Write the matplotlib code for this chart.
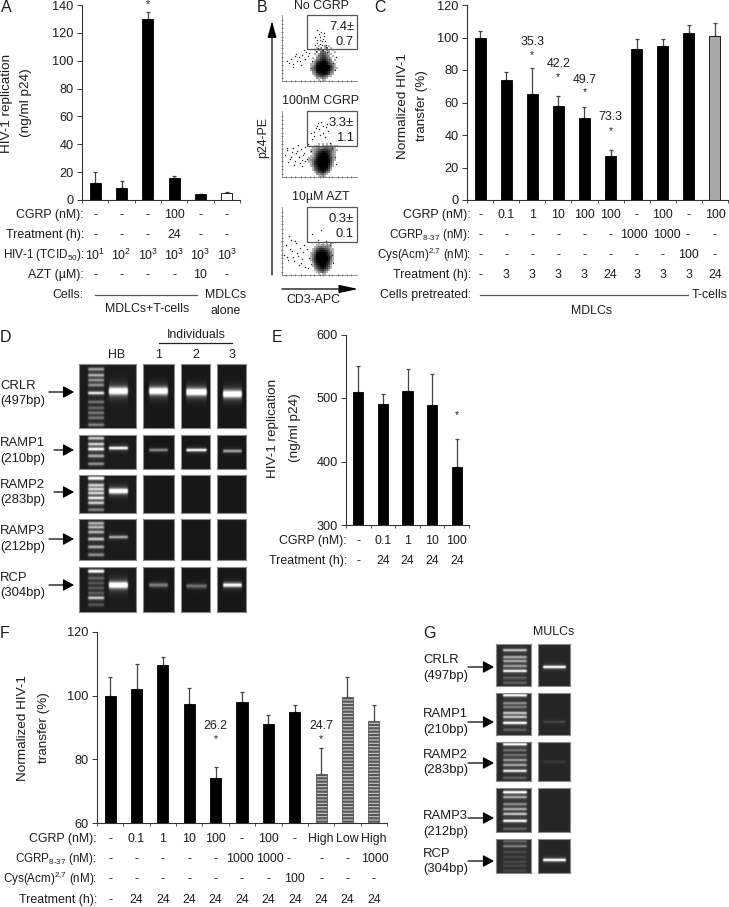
import numpy as np
import matplotlib
matplotlib.use('Agg')
import matplotlib.pyplot as plt
from matplotlib.patches import Rectangle
from matplotlib.transforms import blended_transform_factory, Affine2D

plt.rcParams['font.family'] = ['Liberation Sans', 'DejaVu Sans']
plt.rcParams['mathtext.fontset'] = 'custom'
plt.rcParams['mathtext.rm'] = 'Liberation Sans'
plt.rcParams['mathtext.default'] = 'regular'
plt.rcParams['hatch.linewidth'] = 1.6

W, H = 729, 907
TXT = '#1c1c1c'
FS = 8.9       # table rows and notes
FS_Y = 9.7     # rotated axis titles
FS_GEL = 9.4   # gel labels

# panel A
a_vals = [12, 8.5, 130, 16, 4, 5]
a_tops = [20, 13.5, 135, 17, 4.4, 6]
a_colors = ['black'] * 5 + ['white']
a_rows = ['CGRP (nM):', 'Treatment (h):', 'HIV-1 (TCID$_{50}$):', 'AZT (\u00b5M):']
a_cgrp = ['-', '-', '-', '100', '-', '-']
a_treat = ['-', '-', '-', '24', '-', '-']
a_hiv = ['10$^{1}$', '10$^{2}$', '10$^{3}$', '10$^{3}$', '10$^{3}$', '10$^{3}$']
a_azt = ['-', '-', '-', '-', '10', '-']

# panel C
c_vals = [100, 74, 65, 58, 50.5, 27, 93, 95, 103, 101]
c_tops = [104, 79, 81, 64, 57.5, 31, 99, 99, 108, 109]
c_colors = ['black'] * 9 + ['#a9a9a9']
c_rows = ['CGRP (nM):', 'CGRP$_{8\\text{-}37}$ (nM):', 'Cys(Acm)$^{2{,}7}$ (nM):', 'Treatment (h):']
c_cgrp = ['-', '0.1', '1', '10', '100', '100', '-', '100', '-', '100']
c_antag = ['-', '-', '-', '-', '-', '-', '1000', '1000', '-', '-']
c_cys = ['-', '-', '-', '-', '-', '-', '-', '-', '100', '-']
c_treat = ['-', '3', '3', '3', '3', '24', '3', '3', '3', '24']
c_antag_dx = [0, 0, 0, 0, 0, 0, -3, 4, -1, 0]
c_notes = [(2, '35.3', 42, 54), (3, '42.2', 64, 76), (4, '49.7', 80, 91), (5, '73.3', 117, 130)]

# panel E
e_vals = [510, 491, 511, 489, 392]
e_tops = [551, 506, 546, 538, 436]
e_cgrp = ['-', '0.1', '1', '10', '100']
e_treat = ['-', '24', '24', '24', '24']

# panel F
f_vals = [100, 102, 109.5, 97.5, 74, 98, 91, 95, 75.5, 99.5, 92]
f_tops = [106, 110, 112, 102.5, 77.5, 101, 94, 97, 83.5, 106, 97]
f_striped = [False] * 8 + [True] * 3
f_cgrp = ['-', '0.1', '1', '10', '100', '-', '100', '-', 'High', 'Low', 'High']
f_antag = ['-', '-', '-', '-', '-', '1000', '1000', '-', '-', '-', '1000']
f_cys = ['-', '-', '-', '-', '-', '-', '-', '100', '-', '-', '-']
f_treat = ['-', '24', '24', '24', '24', '24', '24', '24', '24', '24', '24']
f_antag_dx = [0, 0, 0, 0, 0, -2, 2, -6, 0, 0, 1]
f_notes = [(4, '26.2', 726, 738), (8, '24.7', 726, 738)]

# panel B, dots in percent of the plot width / height
b_titles = ['No CGRP', '100nM CGRP', '10\u00b5M AZT']
b_first = ['7.4\u00b1', '3.3\u00b1', '0.3\u00b1']
b_second = ['0.7', '1.1', '0.1']
b1_x = [6, 9, 12, 15, 17, 20, 22, 25, 27, 30, 32, 14, 18, 24, 29, 34, 40, 44, 47, 50, 53, 56, 59, 42, 46, 49, 52, 55, 58,
        45, 48, 51, 54, 57, 60, 47, 50, 53, 56, 44, 62, 65, 68, 70, 72, 38, 36]
b1_y = [30, 28, 33, 26, 38, 31, 36, 25, 40, 34, 44, 21, 41, 30, 47, 38, 30, 55, 62, 66, 60, 68, 55, 49, 58, 71, 75, 63, 52,
        45, 50, 56, 47, 60, 44, 78, 62, 54, 73, 66, 34, 22, 28, 16, 36, 20, 42]
b2_x = [4, 7, 10, 13, 15, 17, 19, 21, 23, 25, 27, 29, 8, 12, 16, 20, 24, 28, 31, 33, 35, 38, 40, 43, 46, 49, 52, 55, 58, 61,
        42, 45, 48, 51, 54, 57, 60, 38, 64, 67, 70, 72, 26, 30, 6]
b2_y = [34, 41, 28, 38, 44, 24, 36, 48, 30, 42, 26, 36, 22, 31, 18, 40, 21, 33, 45, 28, 50, 39, 58, 62, 78, 72, 84, 66, 76, 70,
        68, 74, 82, 64, 77, 60, 80, 66, 52, 44, 30, 20, 16, 24, 44]
b3_x = [3, 5, 8, 10, 12, 14, 16, 18, 20, 22, 24, 26, 28, 30, 9, 13, 17, 21, 25, 29, 33, 36, 39, 48, 40, 45, 52, 58, 64, 67, 68, 34, 6]
b3_y = [30, 44, 22, 38, 52, 26, 20, 47, 32, 15, 40, 24, 34, 12, 58, 36, 50, 28, 18, 44, 38, 25, 16, 52, 60, 48, 66, 50, 44, 30, 18, 10, 26]
b_dots = [(b1_x, b1_y), (b2_x, b2_y), (b3_x, b3_y)]

b1_blob = ["000000100201000000", "000001020130100000", "000010213021010000", "000002034312001000",
           "000010245421100000", "000001345532010000", "000102356642100000", "000013467753201000",
           "000125789975310000", "001137899986421000", "001248999998531000", "001358999999631100",
           "001348999998531000", "000237899986320000", "000125678875210000", "000013455431100000",
           "000002123210000000", "000000101100000000"]
b2_blob = ["000000000000000000", "000000101010100000", "000011102121211100", "000112323443321000",
           "001123456665431100", "001124678876421000", "000135789986421000", "001136899997421000",
           "011247999997521000", "012358999998521000", "011368999998420000", "001368999997410000",
           "001257999996310000", "000146899985200000", "000135789864100000", "000013567632000000",
           "000002234210000000", "000000112100000000"]
b3_blob = ["000000000000000000", "000000000000000000", "000000101010210000", "000001112121100000",
           "000012343332100000", "000124566543110000", "000136788764210000", "001248999975310000",
           "001359999986310000", "001369999997410000", "001368999997310000", "000258999986210000",
           "000147899975200000", "000135789864100000", "000024678753100000", "000012456431000000",
           "000001234210000000", "000000101100000000"]
b_blobs = [b1_blob, b2_blob, b3_blob]

# gels, band rows in image pixels
d_labels = [('CRLR', '(497bp)'), ('RAMP1', '(210bp)'), ('RAMP2', '(283bp)'), ('RAMP3', '(212bp)'), ('RCP', '(304bp)')]
d_ladder_y = [[369, 375, 380, 385, 393, 402, 408, 413, 418, 425],
              [438, 444, 449, 456, 464],
              [478, 485, 489, 493, 498, 503, 510],
              [523, 527, 532, 539, 547, 555],
              [571, 578, 583, 588, 593, 598, 605]]
d_ladder_i = [[.45, .5, .4, .4, .7, .3, .25, .3, .3, .35],
              [.6, .6, .8, .5, .4],
              [.95, .6, .6, .6, .7, .6, .35],
              [.5, .5, .5, .6, .5, .4],
              [.85, .25, .2, .2, .2, .6, .2]]
d_hb_y = [391, 448, 491, 537, 585]
d_hb_i = [1, .85, 1, .5, 1]
d_hb_t = [3.5, 1.4, 2.4, 1.4, 3]
d_ind_t = [3.5, 1.4, 2.4, 1.4, 2]
d_ind_y = [[391, 450, 0, 0, 585], [392, 450, 0, 0, 586], [394, 451, 0, 0, 585]]
d_ind_i = [[1, .4, 0, 0, .35], [1, .8, 0, 0, .3], [1, .5, 0, 0, .8]]

g_labels = [('CRLR', '(497bp)', 660, 676), ('RAMP1', '(210bp)', 714, 730), ('RAMP2', '(283bp)', 755, 770),
            ('RAMP3', '(212bp)', 816, 832), ('RCP', '(304bp)', 854, 869)]
g_ladder_y = [[650, 657, 661, 666, 671, 678, 683],
              [695, 703, 707, 713, 717, 723, 730],
              [744, 750, 755, 760, 765, 771, 778],
              [792, 797, 804, 809, 814, 821, 829],
              [841, 846, 852, 857, 862, 866, 871]]
g_ladder_i = [[.55, .45, .45, .4, .75, .2, .2],
              [.85, .35, .3, .55, .55, .85, .2],
              [.85, .25, .25, .4, .45, .7, .2],
              [.85, .45, .35, .45, .55, .8, .2],
              [.2, .3, .1, .1, .1, .1, .1]]
g_mulc_y = [667, 722, 762, 0, 860]
g_mulc_i = [.9, .12, .07, 0, .95]

fig = plt.figure(figsize=(W / 100, H / 100), dpi=100)
canvas = fig.add_axes([0, 0, 1, 1], zorder=5)
canvas.set_xlim(0, W)
canvas.set_ylim(H, 0)
canvas.axis('off')
canvas.patch.set_alpha(0)


def px_axes(x0, y0, x1, y1, **kw):
    return fig.add_axes([x0 / W, 1 - y1 / H, (x1 - x0) / W, (y1 - y0) / H], **kw)


def put(x, y, s, ha='left', rot=0, fs=FS, trans=None):
    canvas.text(x, y, s, ha=ha, va='center', rotation=rot, fontsize=fs, color=TXT,
                transform=trans if trans is not None else canvas.transData)


def row_label(x, y, s):
    # math strings come out wider than the plain ones, keep them inside the page
    put(x, y, s, ha='right', fs=FS - 0.5 if '$' in s else FS)


def bar_panel(box, ymin, ymax, step, vals, tops, colors, striped=None):
    ax = px_axes(*box)
    n = len(vals)
    xs = np.arange(n)
    for sp in ['top', 'right']:
        ax.spines[sp].set_visible(False)
    for sp in ['left', 'bottom']:
        ax.spines[sp].set_color('#333333')
        ax.spines[sp].set_linewidth(0.8)
    up = np.array(tops) - np.array(vals)
    ax.errorbar(xs, vals, yerr=[np.zeros(n), up], fmt='none', ecolor='#444444', elinewidth=0.9,
                capsize=1.2, capthick=0.9, zorder=2)
    for i in xs:
        if striped is not None and striped[i]:
            ax.bar(i, vals[i] - ymin, 0.42, bottom=ymin, facecolor='#c8c8c8', edgecolor='#585858',
                   hatch='-----', linewidth=0.6, zorder=3)
        else:
            ax.bar(i, vals[i] - ymin, 0.42, bottom=ymin, color=colors[i], edgecolor='black',
                   linewidth=0.6, zorder=3)
    ax.set_xlim(-0.5, n - 0.5)
    ax.set_ylim(ymin, ymax)
    ax.set_xticks(np.arange(n + 1) - 0.5)
    ax.set_xticklabels([])
    ax.set_yticks(np.arange(ymin, ymax + 1, step))
    ax.tick_params(axis='x', length=2, width=0.6, color='#333333')
    ax.tick_params(axis='y', length=3.6, width=0.7, color='#333333', labelsize=9.2, pad=2.5, labelcolor=TXT)
    return ax


def table_row(ax, y, values, dx=None):
    tr = blended_transform_factory(ax.transData, canvas.transData)
    for i, s in enumerate(values):
        shift = dx[i] if dx is not None else 0
        put(i, y, s, ha='center', trans=tr + Affine2D().translate(shift, 0))


def notes(ax, items):
    tr = blended_transform_factory(ax.transData, canvas.transData)
    for i, s, y_txt, y_star in items:
        if s:
            put(i, y_txt, s, ha='center', trans=tr)
        put(i, y_star + 1.5, '*', ha='center', fs=7.5, trans=tr)


def gel(box, bands, bg=0.11):
    x0, y0, x1, y1 = box
    ax = px_axes(x0, y0, x1, y1)
    xx = np.linspace(x0, x1, int((x1 - x0) * 2))
    yy = np.linspace(y0, y1, int((y1 - y0) * 2))
    gx, gy = np.meshgrid(xx, yy)
    img = np.full(gx.shape, bg)
    for y, inten, half, xa, xb in bands:
        if inten <= 0:
            continue
        prof = np.exp(-((gy - y) / half) ** 2) + 0.2 * np.exp(-((gy - y) / (half * 2.5)) ** 2)
        edge = np.clip((gx - xa) / 2, 0, 1) * np.clip((xb - gx) / 2, 0, 1)
        img += inten * prof * edge
    ax.imshow(np.clip(img, 0, 1), cmap='gray', vmin=0, vmax=1, aspect='auto',
              extent=(x0, x1, y1, y0), interpolation='bilinear')
    ax.set_xticks([])
    ax.set_yticks([])
    for sp in ax.spines.values():
        sp.set_color('#8a8a8a')
        sp.set_linewidth(0.8)
    return ax


def arrow(x0, y0, x1, y1, ms=11, hl=0.6, hw=0.33):
    canvas.annotate('', xy=(x1, y1), xytext=(x0, y0),
                    arrowprops=dict(arrowstyle=f'-|>,head_length={hl},head_width={hw}', color='black',
                                    lw=0.9, mutation_scale=ms, shrinkA=0, shrinkB=0))


# A
ax_a = bar_panel((82, 5, 240, 200), 0, 140, 20, a_vals, a_tops, a_colors)
put(1, 8, 'A', fs=11.5)
put(7, 103, 'HIV-1 replication', ha='center', rot=90, fs=FS_Y)
put(26, 103, '(ng/ml p24)', ha='center', rot=90, fs=FS_Y)
for y, lab, vals in zip([215, 235, 255, 275], a_rows, [a_cgrp, a_treat, a_hiv, a_azt]):
    row_label(84, y, lab)
    table_row(ax_a, y, vals)
put(84, 295, 'Cells:', ha='right')
canvas.plot([95, 197], [295, 295], color='#555555', lw=0.9)
put(147, 309, 'MDLCs+T-cells', ha='center')
put(226, 295, 'MDLCs', ha='center')
put(226, 311, 'alone', ha='center')
notes(ax_a, [(2, '', 4, 3)])

# B
put(257, 7, 'B', fs=11.5)
for k, (top, cut, bottom, ty) in enumerate([(15, 49, 81, 6), (111, 146, 177, 101), (207, 242, 275, 197)]):
    ax = px_axes(282, top, 357, bottom)
    for sp in ['top', 'right']:
        ax.spines[sp].set_visible(False)
    for sp in ['left', 'bottom']:
        ax.spines[sp].set_color('#666666')
        ax.spines[sp].set_linewidth(0.5)
    density = (np.array([[int(c) for c in row] for row in b_blobs[k]]) / 9) ** 0.55
    ax.imshow(density, cmap='gray_r', vmin=0, vmax=1, aspect='auto', extent=(32, 80, 0, 54),
              interpolation='nearest')
    ax.scatter(b_dots[k][0], b_dots[k][1], s=1.0, color='#222222', linewidths=0)
    ax.set_xlim(0, 100)
    ax.set_ylim(0, 100)
    gate = 100 * (bottom - cut) / (bottom - top)
    ax.add_patch(Rectangle((33, gate), 67, 100 - gate, fill=False, edgecolor='#555555', linewidth=0.9, clip_on=False))
    ax.set_xticks([25, 50, 75])
    ax.set_yticks([25, 50, 75])
    ax.set_xticks([5, 12, 17, 30, 37, 42, 55, 62, 67, 80, 87, 92], minor=True)
    ax.set_yticks([5, 12, 17, 30, 37, 42, 55, 62, 67, 80, 87, 92], minor=True)
    ax.set_xticklabels([])
    ax.set_yticklabels([])
    ax.tick_params(which='major', length=2, width=0.5, direction='inout', color='#333333')
    ax.tick_params(which='minor', length=1, width=0.4, direction='inout', color='#333333')
    put(321, ty, b_titles[k], ha='center')
    put(354, top + 12, b_first[k], ha='right', fs=9.4)
    put(354, top + 27, b_second[k], ha='right', fs=9.4)
arrow(272, 275, 272, 21, ms=10, hl=1.0, hw=0.27)
arrow(282, 289, 358, 289, ms=10, hl=1.15, hw=0.25)
put(263, 137, 'p24-PE', ha='center', rot=90)
put(313, 300, 'CD3-APC', ha='center')

# C
ax_c = bar_panel((467, 5, 728, 200), 0, 120, 20, c_vals, c_tops, c_colors)
put(374, 8, 'C', fs=11.5)
put(403, 106, 'Normalized HIV-1', ha='center', rot=90, fs=FS_Y)
put(422, 106, 'transfer (%)', ha='center', rot=90, fs=FS_Y)
c_table = [c_cgrp, c_antag, c_cys, c_treat]
c_shift = [None, c_antag_dx, None, None]
for y, lab, vals, dx in zip([215, 235, 255, 275], c_rows, c_table, c_shift):
    row_label(471, y, lab)
    table_row(ax_c, y, vals, dx)
put(471, 295, 'Cells pretreated:', ha='right')
canvas.plot([480, 688], [295, 295], color='#555555', lw=0.9)
put(728, 295, 'T-cells', ha='right')
put(592, 311, 'MDLCs', ha='center')
notes(ax_c, c_notes)

# D
put(0, 337, 'D', fs=11.5)
put(196, 335, 'Individuals', ha='center')
canvas.plot([159, 232], [343, 343], color='#222222', lw=0.9)
for x, s in zip([117, 159, 196, 232], ['HB', '1', '2', '3']):
    put(x, 355, s, ha='center')
d_tops = [364, 435, 475, 519, 567]
d_bots = [428, 469, 513, 560, 612]
d_arrow_y = [392, 450, 492, 539, 585]
d_text_y = [(386, 401), (443, 459), (485, 500), (531, 547), (578, 593)]
d_arrow_x = [49, 54, 54, 49, 49]
for r in range(5):
    bands = [(y, i, 1.5, 87, 105) for y, i in zip(d_ladder_y[r], d_ladder_i[r])]
    bands.append((d_hb_y[r], d_hb_i[r], d_hb_t[r], 108, 129))
    gel((79, d_tops[r], 136, d_bots[r]), bands)
    for c, (xa, xb, xc, xd) in enumerate([(143, 174, 148, 169), (181, 210, 185, 207), (217, 246, 222, 243)]):
        gel((xa, d_tops[r], xb, d_bots[r]), [(d_ind_y[c][r], d_ind_i[c][r], d_ind_t[r], xc, xd)], bg=0.09)
    put(0, d_text_y[r][0], d_labels[r][0], fs=FS_GEL)
    put(0, d_text_y[r][1], d_labels[r][1], fs=FS_GEL)
    arrow(d_arrow_x[r], d_arrow_y[r], 74, d_arrow_y[r])

# E
ax_e = bar_panel((346, 334.5, 469, 525), 300, 600, 100, e_vals, e_tops, ['black'] * 5)
put(272, 337, 'E', fs=11.5)
put(273, 428, 'HIV-1 replication', ha='center', rot=90, fs=FS_Y)
put(295, 428, '(ng/ml p24)', ha='center', rot=90, fs=FS_Y)
for y, lab, vals in zip([541, 561], ['CGRP (nM):', 'Treatment (h):'], [e_cgrp, e_treat]):
    row_label(347, y, lab)
    table_row(ax_e, y, vals)
notes(ax_e, [(4, '', 415, 414)])

# F
ax_f = bar_panel((97, 632, 387, 823), 60, 120, 20, f_vals, f_tops, ['black'] * 11, striped=f_striped)
put(0, 633, 'F', fs=11.5)
put(23, 728, 'Normalized HIV-1', ha='center', rot=90, fs=FS_Y)
put(44, 728, 'transfer (%)', ha='center', rot=90, fs=FS_Y)
f_table = [f_cgrp, f_antag, f_cys, f_treat]
f_shift = [None, f_antag_dx, None, None]
for y, lab, vals, dx in zip([839, 859, 879, 900], c_rows, f_table, f_shift):
    row_label(97, y, lab)
    table_row(ax_f, y, vals, dx)
notes(ax_f, f_notes)

# G
put(423, 634, 'G', fs=11.5)
put(554, 632, 'MULCs', ha='center')
g_tops = [644, 693, 742, 788, 839]
g_bots = [686, 735, 781, 832, 873]
g_arrow_y = [667, 722, 763, 818, 861]
for r in range(5):
    bands = [(y, i, 1.2, 502, 528) for y, i in zip(g_ladder_y[r], g_ladder_i[r])]
    gel((496, g_tops[r], 531, g_bots[r]), bands, bg=0.17)
    gel((538, g_tops[r], 570, g_bots[r]), [(g_mulc_y[r], g_mulc_i[r], 1.2, 542, 567)], bg=0.15)
    name, size, y1, y2 = g_labels[r]
    put(423, y1, name, fs=FS_GEL)
    put(423, y2, size, fs=FS_GEL)
    arrow(468, g_arrow_y[r], 494, g_arrow_y[r])

fig.savefig('out.png', dpi=100)
plt.close(fig)
